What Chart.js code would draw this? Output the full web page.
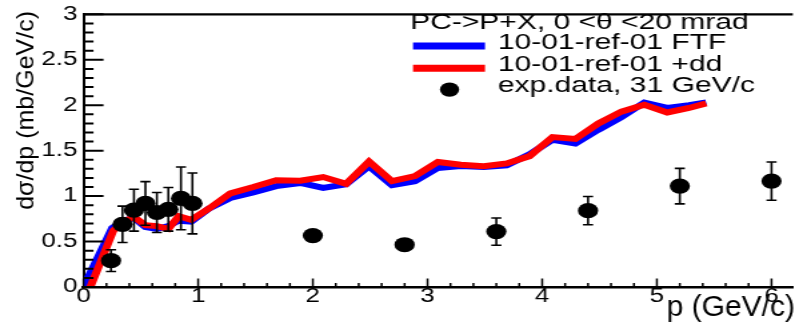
<!DOCTYPE html>
<html>
<head>
<meta charset="utf-8">
<script src="https://cdn.jsdelivr.net/npm/chart.js@4"></script>
<style>
html, body { margin: 0; padding: 0; background: #fff; }
</style>
</head>
<body>
<!-- the original picture is stretched sideways, so the canvas is drawn narrow and widened by css -->
<canvas id="c" width="602" height="325" style="display:block;width:803px;height:325px"></canvas>
<script>
var FONT = '"Liberation Sans", Arial, Helvetica, sans-serif';

// FTF curve
var ftfP = [0.0,0.25,0.35,0.44,0.54,0.64,0.74,0.83,0.94,1.09,1.28,1.48,1.68,1.89,2.09,2.29,2.49,2.69,2.89,3.09,3.29,3.49,3.69,3.89,4.09,4.29,4.49,4.69,4.89,5.09,5.28,5.43];
var ftfY = [0.0,0.65,0.73,0.76,0.66,0.64,0.67,0.73,0.72,0.86,0.98,1.04,1.11,1.145,1.09,1.13,1.33,1.12,1.165,1.31,1.33,1.32,1.34,1.46,1.62,1.58,1.73,1.87,2.03,1.97,2.0,2.03];
// FTF +dd curve
var ddP = [0.06,0.26,0.35,0.44,0.54,0.64,0.74,0.83,0.94,1.09,1.28,1.48,1.68,1.89,2.09,2.29,2.49,2.69,2.89,3.09,3.29,3.49,3.69,3.89,4.09,4.29,4.49,4.69,4.89,5.09,5.28,5.43];
var ddY = [0.0,0.62,0.72,0.77,0.68,0.67,0.64,0.78,0.74,0.86,1.03,1.10,1.175,1.17,1.21,1.135,1.38,1.165,1.22,1.375,1.345,1.33,1.36,1.44,1.65,1.63,1.80,1.93,2.005,1.92,1.97,2.02];
// experiment
var expP = [0.24,0.34,0.44,0.54,0.64,0.74,0.85,0.95,2.0,2.8,3.6,4.4,5.2,6.0];
var expY = [0.29,0.69,0.845,0.92,0.82,0.855,0.975,0.92,0.566,0.465,0.61,0.84,1.11,1.165];
var expErr = [0.12,0.20,0.23,0.24,0.22,0.24,0.345,0.335,0.04,0.04,0.15,0.155,0.195,0.21];

var xTicks = [0,1,2,3,4,5,6];
var yTicks = [0,0.5,1,1.5,2,2.5,3];
var legendHeader = 'PC->P+X, 0 <\u03b8 <20 mrad';
var xTitle = 'p (GeV/c)';
var yTitle = 'd\u03c3/dp (mb/GeV/c)';

function pts(xs, ys) {
  return xs.map(function (x, i) { return {x: x, y: ys[i]}; });
}

// root-like stuff: inside ticks, top frame, error bars, legend, titles
var rootLook = {
  id: 'rootLook',
  afterDatasetsDraw: function (chart) {
    var ctx = chart.ctx, xs = chart.scales.x, ys = chart.scales.y;
    ctx.save();
    ctx.strokeStyle = '#000';
    ctx.lineWidth = 1.6;
    for (var i = 0; i < expP.length; i++) {
      var px = xs.getPixelForValue(expP[i]);
      var hi = ys.getPixelForValue(expY[i] + expErr[i]);
      var lo = ys.getPixelForValue(expY[i] - expErr[i]);
      ctx.beginPath();
      ctx.moveTo(px, hi); ctx.lineTo(px, lo);
      ctx.moveTo(px - 3.8, hi); ctx.lineTo(px + 3.8, hi);
      ctx.moveTo(px - 3.8, lo); ctx.lineTo(px + 3.8, lo);
      ctx.stroke();
    }
    ctx.restore();
  },
  afterDraw: function (chart) {
    var ctx = chart.ctx, xs = chart.scales.x, ys = chart.scales.y, a = chart.chartArea;
    var meta = chart.data.datasets;
    ctx.save();
    ctx.strokeStyle = '#000';
    ctx.fillStyle = '#000';

    // top frame
    ctx.lineWidth = 2.2;
    ctx.beginPath(); ctx.moveTo(a.left, a.top); ctx.lineTo(a.right, a.top); ctx.stroke();

    // x ticks, pointing up
    ctx.lineWidth = 1.5;
    ctx.beginPath();
    for (var k = 0; k <= 31; k++) {
      var v = k * 0.2;
      if (v > xs.max) break;
      var px = xs.getPixelForValue(v);
      var len = (k % 5 === 0) ? 8.5 : 4;
      ctx.moveTo(px, a.bottom); ctx.lineTo(px, a.bottom - len);
    }
    ctx.stroke();

    // y ticks, pointing right
    ctx.lineWidth = 2;
    ctx.beginPath();
    for (var j = 0; j <= 30; j++) {
      var py = ys.getPixelForValue(j * 0.1);
      var l2 = (j % 5 === 0) ? 15 : 7.5;
      ctx.moveTo(a.left, py); ctx.lineTo(a.left + l2, py);
    }
    ctx.stroke();

    // legend
    ctx.font = '22.5px ' + FONT;
    ctx.textAlign = 'left';
    ctx.textBaseline = 'alphabetic';
    ctx.fillText(legendHeader, 307.4, 29.3);
    var ftf = meta[2], dd = meta[1], ex = meta[0];
    ctx.lineWidth = 7;
    ctx.strokeStyle = ftf.borderColor;
    ctx.beginPath(); ctx.moveTo(309.6, 46); ctx.lineTo(363.6, 46); ctx.stroke();
    ctx.strokeStyle = dd.borderColor;
    ctx.beginPath(); ctx.moveTo(309.6, 68.3); ctx.lineTo(363.6, 68.3); ctx.stroke();
    ctx.beginPath(); ctx.arc(337, 89.6, 7.2, 0, Math.PI * 2); ctx.fill();
    ctx.fillText(ftf.label, 373.3, 49.3);
    ctx.fillText(dd.label, 373.3, 70.5);
    ctx.fillText(ex.label, 373.3, 92);

    // x title, squeezed back so it keeps its shape after the css stretch
    ctx.save();
    ctx.translate(596, 316);
    ctx.scale(0.75, 1);
    ctx.font = '30px ' + FONT;
    ctx.textAlign = 'right';
    ctx.fillText(xTitle, 0, 0);
    ctx.restore();

    // y title
    ctx.save();
    ctx.translate(25.1, 11);
    ctx.scale(0.75, 1);
    ctx.rotate(-Math.PI / 2);
    ctx.font = '25px ' + FONT;
    ctx.textAlign = 'right';
    ctx.fillText(yTitle, 0, 0);
    ctx.restore();

    ctx.restore();
  }
};

var chart = new Chart(document.getElementById('c').getContext('2d'), {
  type: 'line',
  data: {
    datasets: [
      {
        label: 'exp.data, 31 GeV/c',
        data: pts(expP, expY),
        showLine: false,
        pointStyle: 'circle',
        pointRadius: 7.6,
        pointBackgroundColor: '#000',
        pointBorderColor: '#000',
        pointBorderWidth: 0,
        order: 0
      },
      {
        label: '10-01-ref-01 +dd',
        data: pts(ddP, ddY),
        borderColor: '#ff0000',
        borderWidth: 6,
        pointRadius: 0,
        tension: 0,
        clip: 0,
        order: 1
      },
      {
        label: '10-01-ref-01 FTF',
        data: pts(ftfP, ftfY),
        borderColor: '#0000ff',
        borderWidth: 6,
        pointRadius: 0,
        tension: 0,
        clip: 0,
        order: 2
      }
    ]
  },
  options: {
    responsive: false,
    devicePixelRatio: 1,
    animation: false,
    layout: { padding: { top: 10.5, left: 0, right: 0, bottom: 0 } },
    plugins: { legend: { display: false }, tooltip: { enabled: false } },
    scales: {
      x: {
        type: 'linear',
        min: 0,
        max: 6.186,
        grid: { display: false, drawTicks: false },
        border: { display: true, color: '#000', width: 2.5 },
        afterBuildTicks: function (s) { s.ticks = xTicks.map(function (v) { return {value: v}; }); },
        afterFit: function (s) { s.height = 38; },
        ticks: {
          padding: 0,
          maxRotation: 0,
          autoSkip: false,
          color: '#000',
          font: { family: FONT, size: 19.5, lineHeight: 1 }
        }
      },
      y: {
        type: 'linear',
        min: 0,
        max: 3,
        grid: { display: false, drawTicks: false },
        border: { display: true, color: '#000', width: 2 },
        afterBuildTicks: function (s) { s.ticks = yTicks.map(function (v) { return {value: v}; }); },
        afterFit: function (s) { s.width = 62.6; },
        ticks: {
          padding: 4.6,
          color: '#000',
          font: { family: FONT, size: 19.5, lineHeight: 1 },
          callback: function (v) { return String(v); }
        }
      }
    }
  },
  plugins: [rootLook]
});
</script>
</body>
</html>
